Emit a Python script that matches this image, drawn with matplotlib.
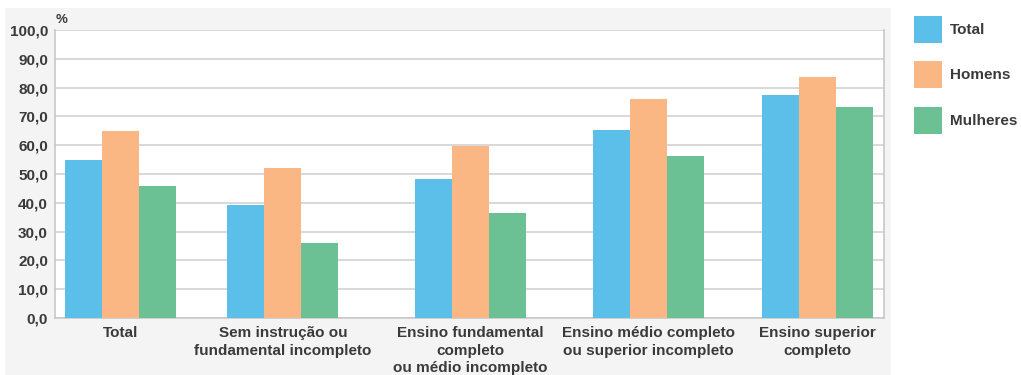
import matplotlib.pyplot as plt
import numpy as np
from matplotlib.patches import Rectangle

plt.rcParams['font.family'] = ['Liberation Sans', 'DejaVu Sans']

categorias = ['Total',
              'Sem instrução ou\nfundamental incompleto',
              'Ensino fundamental\ncompleto\nou médio incompleto',
              'Ensino médio completo\nou superior incompleto',
              'Ensino superior\ncompleto']
total = [54.9, 39.2, 48.1, 65.3, 77.4]
homens = [65.0, 52.0, 59.7, 76.0, 83.6]
mulheres = [45.8, 26.2, 36.5, 56.2, 73.3]
series = ['Total', 'Homens', 'Mulheres']

cores = ['#5bbfea', '#fab683', '#6bc194']
cor_texto = '#3a3a3a'
cor_grade = '#d8d8d8'

# centros dos grupos, em larguras de barra
centros = np.array([1.76, 6.16, 11.22, 16.03, 20.6])
largura = 1.0

fig = plt.figure(figsize=(10.21, 3.75), dpi=100)
fig.patch.set_facecolor('white')

# painel cinza atrás do gráfico
fig.patches.append(Rectangle((5 / 1021, 0), 886 / 1021, 367 / 375,
                             transform=fig.transFigure, facecolor='#f4f4f4',
                             edgecolor='none', zorder=-5))

ax = fig.add_axes([55 / 1021, 57 / 375, 829 / 1021, 288 / 375])
ax.set_facecolor('white')

barras = []
for i, (valores, nome) in enumerate(zip([total, homens, mulheres], series)):
    b = ax.bar(centros + (i - 1) * largura, valores, width=largura,
               color=cores[i], label=nome, zorder=3)
    barras.append(b)

ax.set_xlim(0, 829 / 37)
ax.set_ylim(0, 100)
ax.set_yticks(np.arange(0, 101, 10))
ax.set_yticklabels([f'{v:.1f}'.replace('.', ',') for v in np.arange(0, 101, 10)])
ax.yaxis.grid(True, color=cor_grade, linewidth=1.4, zorder=0)
ax.set_axisbelow(True)
ax.set_xticks(centros)
ax.set_xticklabels(categorias, linespacing=1.3)

ax.tick_params(axis='y', length=0, pad=5, labelsize=11, labelcolor=cor_texto)
ax.tick_params(axis='x', length=0, pad=6, labelsize=11, labelcolor=cor_texto)
for lbl in ax.get_xticklabels() + ax.get_yticklabels():
    lbl.set_fontweight('bold')

for lado in ['left', 'right', 'bottom']:
    ax.spines[lado].set_color('#c8c8c8')
    ax.spines[lado].set_linewidth(1.2)
ax.spines['top'].set_visible(False)

fig.text(56 / 1021, 1 - 20 / 375, '%', fontsize=9.5, color=cor_texto,
         fontweight='bold', va='center', ha='left')

leg = fig.legend(handles=barras, labels=series, loc='upper left',
                 bbox_to_anchor=(900 / 1021, 1 - 2 / 375), frameon=False,
                 handlelength=1.85, handleheight=2.35, labelspacing=1.2,
                 handletextpad=0.5, prop={'size': 11, 'weight': 'bold'})
for t in leg.get_texts():
    t.set_color(cor_texto)

fig.savefig('out.png', dpi=100)
